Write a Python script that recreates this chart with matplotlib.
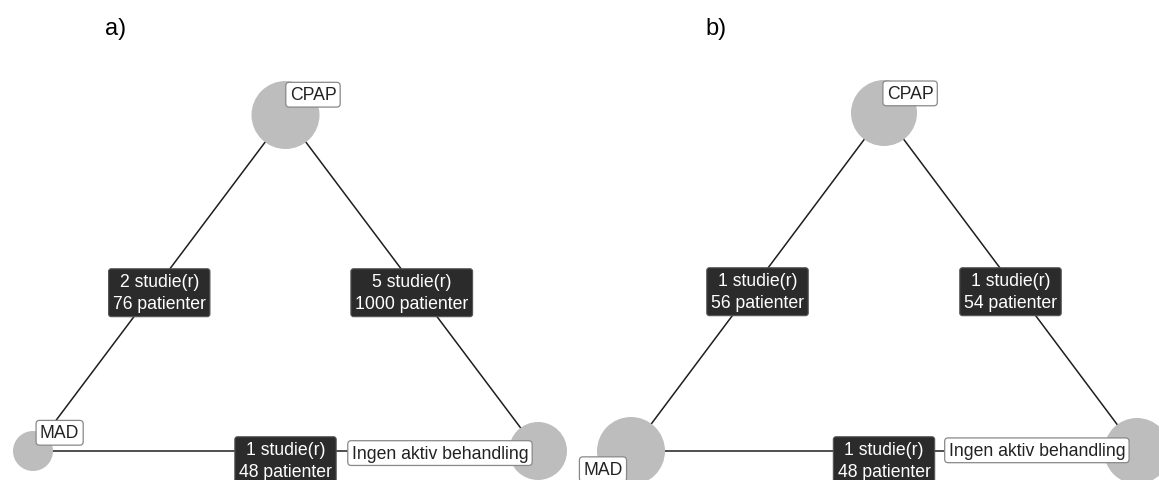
import matplotlib
matplotlib.use("Agg")
import matplotlib.pyplot as plt

plt.rcParams["font.family"] = ["Liberation Sans", "DejaVu Sans"]

# ---- network data ----
nodes = ["CPAP", "MAD", "Ingen aktiv behandling"]
node_x = [0.5, 0.0, 1.0]  # triangle layout
node_y = [1.0, 0.0, 0.0]
edge_pairs = [(0, 1), (0, 2), (1, 2)]

panel_titles = ["a)", "b)"]
studies_a = [2, 5, 1]
patients_a = [76, 1000, 48]
studies_b = [1, 1, 1]
patients_b = [56, 54, 48]
node_radius_a = [34, 20, 29]  # px
node_radius_b = [33, 34, 33]

# label placement per node: (ha, va, dx pt, dy pt)
label_pos_a = [("left", "bottom", 3, 8.5), ("left", "bottom", 5, 7), ("right", "center", -7, -1.5)]
label_pos_b = [("left", "bottom", 2, 8), ("right", "top", -6, -7), ("right", "center", -8.5, 0.5)]

NODE = "#bdbdbd"; DARK = "#2b2b2b"; LINE = "#1e1e1e"

fig = plt.figure(figsize=(11.59, 4.81), dpi=100)
W, H = 1159, 481
# axes pixel frames: (left px of MAD, width px, baseline px from top, height px)
frames = [(33, 505, 452, 336), (631, 506, 452, 338)]
title_x = [116, 716]

panels = [(studies_a, patients_a, node_radius_a, label_pos_a),
          (studies_b, patients_b, node_radius_b, label_pos_b)]

for k, (studies, patients, radius, lpos) in enumerate(panels):
    l, w, base, h = frames[k]
    ax = fig.add_axes([l / W, (H - base) / H, w / W, h / H])
    ax.set_xlim(0, 1); ax.set_ylim(0, 1); ax.axis("off")

    for (i, j), s, p in zip(edge_pairs, studies, patients):
        ax.plot([node_x[i], node_x[j]], [node_y[i], node_y[j]], color=LINE, lw=1.1,
                zorder=1, clip_on=False)
        mx, my = (node_x[i] + node_x[j]) / 2, (node_y[i] + node_y[j]) / 2
        ax.annotate(f"{s} studie(r)\n{p} patienter", (mx, my), xytext=(0, -7),
                    textcoords="offset points", ha="center", va="center",
                    color="white", fontsize=12.7, linespacing=1.42, zorder=4,
                    annotation_clip=False,
                    bbox=dict(boxstyle="round,pad=0.24,rounding_size=0.15", fc=DARK, ec="#555555", lw=0.8))

    sizes = [(2 * r * 0.72) ** 2 for r in radius]
    ax.scatter(node_x, node_y, s=sizes, color=NODE, edgecolors="none", zorder=2, clip_on=False)

    for n, (ha, va, dx, dy) in enumerate(lpos):
        ax.annotate(nodes[n], (node_x[n], node_y[n]), xytext=(dx, dy), textcoords="offset points",
                    ha=ha, va=va, fontsize=12.7, color="#222222", zorder=5, annotation_clip=False,
                    bbox=dict(boxstyle="round,pad=0.22,rounding_size=0.2", fc="white", ec="#888888", lw=0.9))

    fig.text(title_x[k] / W, 1 - 28.5 / H, panel_titles[k], ha="center", va="center", fontsize=17)

fig.savefig("out.png", dpi=100)
